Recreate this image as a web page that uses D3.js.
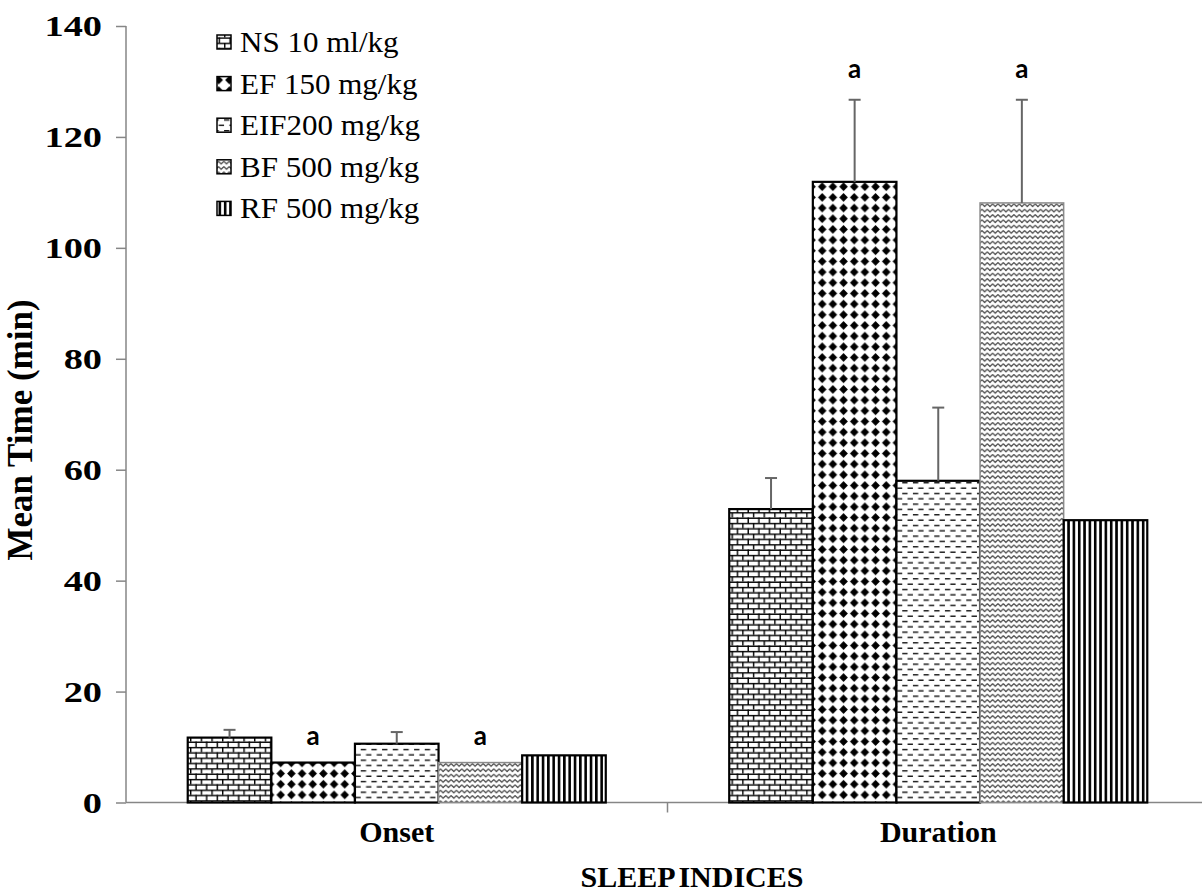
<!DOCTYPE html>
<html><head><meta charset="utf-8">
<script src="https://cdn.jsdelivr.net/npm/d3@7/dist/d3.min.js"></script>
<style>body{margin:0;background:#fff}svg{display:block}</style>
</head><body>
<svg id="c" width="1202" height="896"></svg>
<script>
const categories = ["Onset", "Duration"];
const series = ["NS 10 ml/kg", "EF 150 mg/kg", "EIF200 mg/kg", "BF 500 mg/kg", "RF 500 mg/kg"];
const onsetValues = [11.7, 7.2, 10.6, 7.2, 8.5];
const onsetErrors = [1.4, 0, 2.1, 0, 0];
const durationValues = [52.9, 111.9, 58.0, 108.1, 50.9];
const durationErrors = [5.6, 14.8, 13.2, 18.6, 0];
const onsetSig = ["", "a", "", "a", ""];
const durationSig = ["", "a", "", "a", ""];
const yTicks = [0, 20, 40, 60, 80, 100, 120, 140];

(function(){
const values = [onsetValues, durationValues];
const errors = [onsetErrors, durationErrors];
const sigs = [onsetSig, durationSig];

const svg = d3.select("#c");
const W = 1202;
const mLeft = 126, mRight = 1209, mTop = 26, mBottom = 802.5;
const serif = "'Liberation Serif','Times New Roman',serif";

const x = d3.scaleBand().domain(categories).range([mLeft, mRight]);
const gap = x.bandwidth() * 0.114;
const xs = d3.scaleBand().domain(series).range([gap, x.bandwidth() - gap]);
const y = d3.scaleLinear().domain([0, 140]).range([mBottom, mTop]);

const defs = svg.append("defs");
const S = 10.67;
let p = defs.append("pattern").attr("id", "p0").attr("patternUnits", "userSpaceOnUse").attr("width", S).attr("height", S);
p.append("rect").attr("width", S).attr("height", S).attr("fill", "#fff");
p.append("rect").attr("x", 0).attr("y", 0).attr("width", S).attr("height", 1.4).attr("fill", "#000");
p.append("rect").attr("x", 0).attr("y", S/2).attr("width", S).attr("height", 1.4).attr("fill", "#000");
p.append("rect").attr("x", 0).attr("y", 0).attr("width", 1.4).attr("height", S/2).attr("fill", "#000");
p.append("rect").attr("x", S/2).attr("y", S/2).attr("width", 1.4).attr("height", S/2).attr("fill", "#000");
p = defs.append("pattern").attr("id", "p1").attr("patternUnits", "userSpaceOnUse").attr("width", S).attr("height", S);
p.append("rect").attr("width", S).attr("height", S).attr("fill", "#fff");
const c = S/2, r = 4.3;
p.append("path").attr("d", `M${c},${c-r}L${c+r},${c}L${c},${c+r}L${c-r},${c}Z`).attr("fill", "#000");
p = defs.append("pattern").attr("id", "p2").attr("patternUnits", "userSpaceOnUse").attr("width", S).attr("height", S);
p.append("rect").attr("width", S).attr("height", S).attr("fill", "#fff");
p.append("rect").attr("x", 0).attr("y", 2).attr("width", S/2).attr("height", 1.3).attr("fill", "#000");
p.append("rect").attr("x", S/2).attr("y", 2 + S/2).attr("width", S/2).attr("height", 1.3).attr("fill", "#000");
const Z = 5.33;
p = defs.append("pattern").attr("id", "p3").attr("patternUnits", "userSpaceOnUse").attr("width", Z).attr("height", Z);
p.append("rect").attr("width", Z).attr("height", Z).attr("fill", "#fff");
p.append("path").attr("d", `M0,${Z*0.25}L${Z/2},${Z*0.75}L${Z},${Z*0.25}`).attr("fill", "none").attr("stroke", "#444").attr("stroke-width", 1.1);
p = defs.append("pattern").attr("id", "p4").attr("patternUnits", "userSpaceOnUse").attr("width", Z).attr("height", Z);
p.append("rect").attr("width", Z).attr("height", Z).attr("fill", "#fff");
p.append("rect").attr("x", 0).attr("y", 0).attr("width", 2.6).attr("height", Z).attr("fill", "#000");

const strokes = ["#000", "#000", "#000", "#8a8a8a", "#000"];

const axisColor = "#868686";
const yAxis = svg.append("g").attr("transform", `translate(${mLeft},0)`)
  .call(d3.axisLeft(y).tickValues(yTicks).tickSize(10).tickPadding(14).tickFormat(d3.format("d")));
yAxis.select(".domain").attr("stroke", axisColor).attr("stroke-width", 1.5).attr("d", `M0,${mTop}H0V${mBottom}`);
yAxis.selectAll(".tick line").attr("stroke", axisColor).attr("stroke-width", 1.5);
yAxis.selectAll(".tick text").attr("font-family", serif).attr("font-weight", "bold").attr("font-size", 30).attr("fill", "#000")
  .attr("transform", "translate(-24,0) scale(1.28,1) translate(24,0)");

svg.append("line").attr("x1", mLeft).attr("x2", W).attr("y1", mBottom).attr("y2", mBottom).attr("stroke", axisColor).attr("stroke-width", 1.5);
svg.selectAll(".xt").data(categories.slice(1)).enter().append("line")
  .attr("x1", d => x(d)).attr("x2", d => x(d)).attr("y1", mBottom).attr("y2", mBottom + 10)
  .attr("stroke", axisColor).attr("stroke-width", 1.5);

categories.forEach((cat, ci) => {
  const g = svg.append("g").attr("transform", `translate(${x(cat)},0)`);
  series.forEach((s, si) => {
    const v = values[ci][si];
    g.append("rect").attr("x", xs(s)).attr("y", y(v)).attr("width", xs.bandwidth()).attr("height", y(0) - y(v))
      .attr("fill", `url(#p${si})`).attr("stroke", strokes[si]).attr("stroke-width", si === 3 ? 1.5 : 2.2);
  });
  series.forEach((s, si) => {
    const v = values[ci][si], e = errors[ci][si];
    const cx = xs(s) + xs.bandwidth() / 2;
    if (e > 0) {
      g.append("line").attr("x1", cx).attr("x2", cx).attr("y1", y(v)).attr("y2", y(v + e)).attr("stroke", "#666").attr("stroke-width", 2);
      g.append("line").attr("x1", cx - 6).attr("x2", cx + 6).attr("y1", y(v + e)).attr("y2", y(v + e)).attr("stroke", "#666").attr("stroke-width", 2);
    }
    if (sigs[ci][si]) {
      g.append("text").attr("x", cx).attr("y", y(v + e) - (e > 0 ? 22 : 18)).attr("text-anchor", "middle")
        .attr("font-family", "Lato, 'Open Sans', sans-serif").attr("font-weight", "bold").attr("font-size", 26)
        .text(sigs[ci][si]);
    }
  });
  svg.append("text").attr("x", x(cat) + x.bandwidth() / 2).attr("y", 842).attr("text-anchor", "middle")
    .attr("font-family", serif).attr("font-weight", "bold").attr("font-size", 30).text(cat);
});

svg.append("text").attr("x", 692).attr("y", 887).attr("text-anchor", "middle")
  .attr("font-family", serif).attr("font-weight", "bold").attr("font-size", 30).attr("word-spacing", -3).text("SLEEP INDICES");
svg.append("text").attr("transform", "translate(32,430) rotate(-90)").attr("text-anchor", "middle")
  .attr("font-family", serif).attr("font-weight", "bold").attr("font-size", 35).text("Mean Time (min)");

const lg = svg.append("g");
series.forEach((s, si) => {
  const cy = 42 + si * 41.6;
  lg.append("rect").attr("x", 217).attr("y", cy - 7).attr("width", 14).attr("height", 14)
    .attr("fill", `url(#p${si})`).attr("stroke", "#000").attr("stroke-width", 1.5);
  lg.append("text").attr("x", 240).attr("y", cy + 10).attr("font-family", serif).attr("font-size", 29)
    .attr("transform", "translate(240,0) scale(1.07,1) translate(-240,0)").text(s);
});
})();
</script>
</body></html>
